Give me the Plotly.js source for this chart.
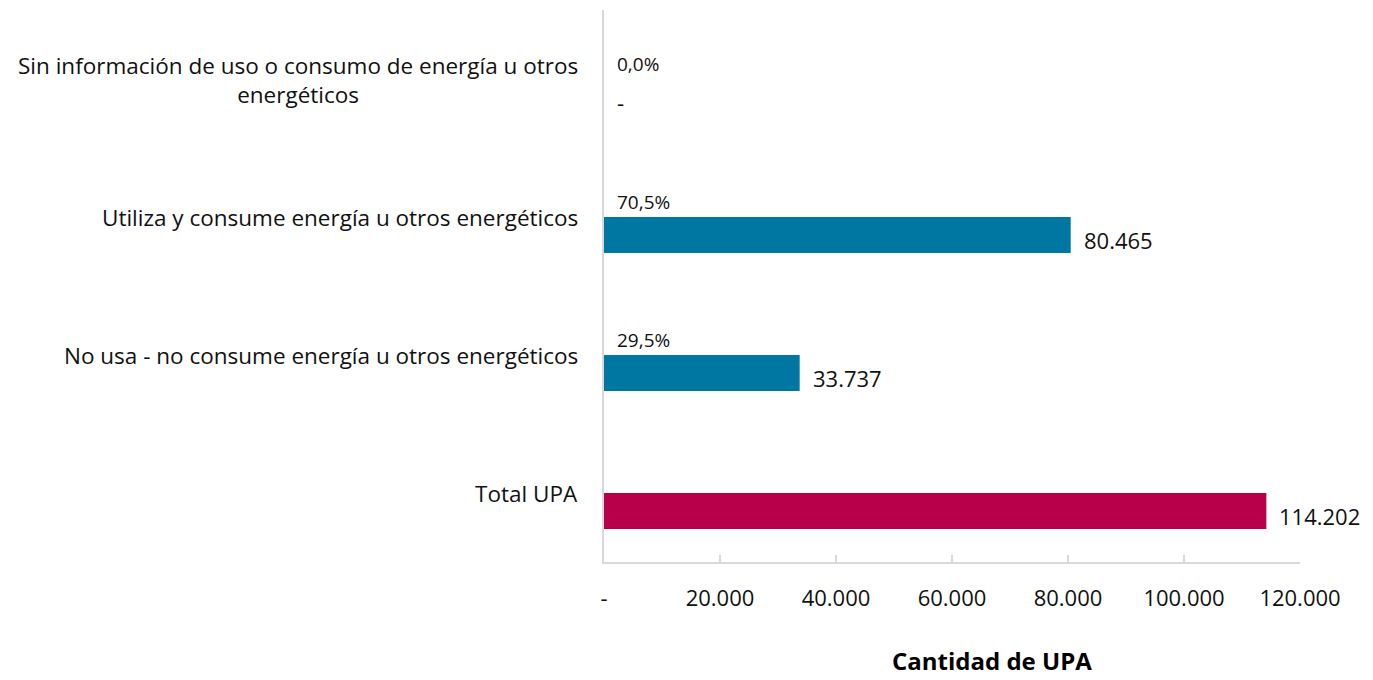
<!DOCTYPE html>
<html>
<head>
<meta charset="utf-8">
<script src="https://cdn.plot.ly/plotly-3.0.1.min.js"></script>
<style>
  body { margin: 0; background: #fff; }
  #graph { width: 1373px; height: 680px; }
</style>
</head>
<body>
<div id="graph"></div>
<script>
// categorias de abajo hacia arriba
const categorias = ['Total UPA',
    'No usa - no consume energía u otros energéticos',
    'Utiliza y consume energía u otros energéticos',
    'Sin información de uso o consumo de energía u otros energéticos'];
const etiquetas = ['Total UPA',
    'No usa - no consume energía u otros energéticos',
    'Utiliza y consume energía u otros energéticos',
    'Sin información de uso o consumo de energía u otros<br>energéticos'];
const valores = [114202, 33737, 80465, 0];
const textoValores = ['114.202', '33.737', '80.465', '-'];
const porcentajes = ['', '29,5%', '70,5%', '0,0%'];
const colores = ['#B8004A', '#0077A3', '#0077A3', '#0077A3'];
const tickVals = [0, 20000, 40000, 60000, 80000, 100000, 120000];
const tickText = ['-', '20.000', '40.000', '60.000', '80.000', '100.000', '120.000'];

const fuente = 'Open Sans, Noto Sans, sans-serif';
const gris = '#d9d9d9';
const negro = '#111111';

let trace1 = {
    x: valores,
    y: categorias,
    type: 'bar',
    orientation: 'h',
    width: 0.26,
    marker: { color: colores },
    hoverinfo: 'none'
};

const annotations = [];
for (let i = 0; i < categorias.length; i++) {
    // etiqueta de categoria
    annotations.push({
        x: 0, xref: 'paper', y: categorias[i], yref: 'y',
        text: etiquetas[i], showarrow: false,
        xanchor: 'right', align: 'center', xshift: -24, yshift: 17,
        font: { family: fuente, size: 22.5, color: negro }
    });
    // valor al final de la barra
    annotations.push({
        x: valores[i], y: categorias[i],
        text: textoValores[i], showarrow: false,
        xanchor: 'left', xshift: 11, yshift: -5,
        font: { family: fuente, size: 22, color: negro }
    });
    if (porcentajes[i] !== '') {
        annotations.push({
            x: 0, y: categorias[i],
            text: porcentajes[i], showarrow: false,
            xanchor: 'left', xshift: 11, yshift: 33,
            font: { family: fuente, size: 19, color: negro }
        });
    }
}
// titulo del eje x
annotations.push({
    x: 0.557, xref: 'paper', y: -0.178, yref: 'paper', yanchor: 'middle',
    text: '<b>Cantidad de UPA</b>', showarrow: false,
    font: { family: fuente, size: 24, color: '#000' }
});

let layout = {
    width: 1373,
    height: 680,
    margin: { l: 604, r: 73, t: 10, b: 118 },
    paper_bgcolor: '#fff',
    plot_bgcolor: '#fff',
    showlegend: false,
    font: { family: fuente, size: 22, color: negro },
    xaxis: {
        range: [0, 120000],
        tickvals: tickVals,
        ticktext: tickText,
        showgrid: false,
        zeroline: false,
        showline: true,
        linecolor: gris,
        linewidth: 2,
        ticks: 'inside',
        ticklen: 7,
        tickwidth: 1.5,
        tickcolor: gris,
        ticklabelstandoff: 16,
        tickfont: { family: fuente, size: 22, color: negro },
        fixedrange: true
    },
    yaxis: {
        type: 'category',
        categoryorder: 'array',
        categoryarray: categorias,
        range: [-0.37, 3.63],
        showticklabels: false,
        showgrid: false,
        zeroline: false,
        showline: true,
        linecolor: gris,
        linewidth: 2,
        ticks: '',
        fixedrange: true
    },
    annotations: annotations
};

Plotly.newPlot('graph', [trace1], layout, { displayModeBar: false, staticPlot: true });
</script>
</body>
</html>
